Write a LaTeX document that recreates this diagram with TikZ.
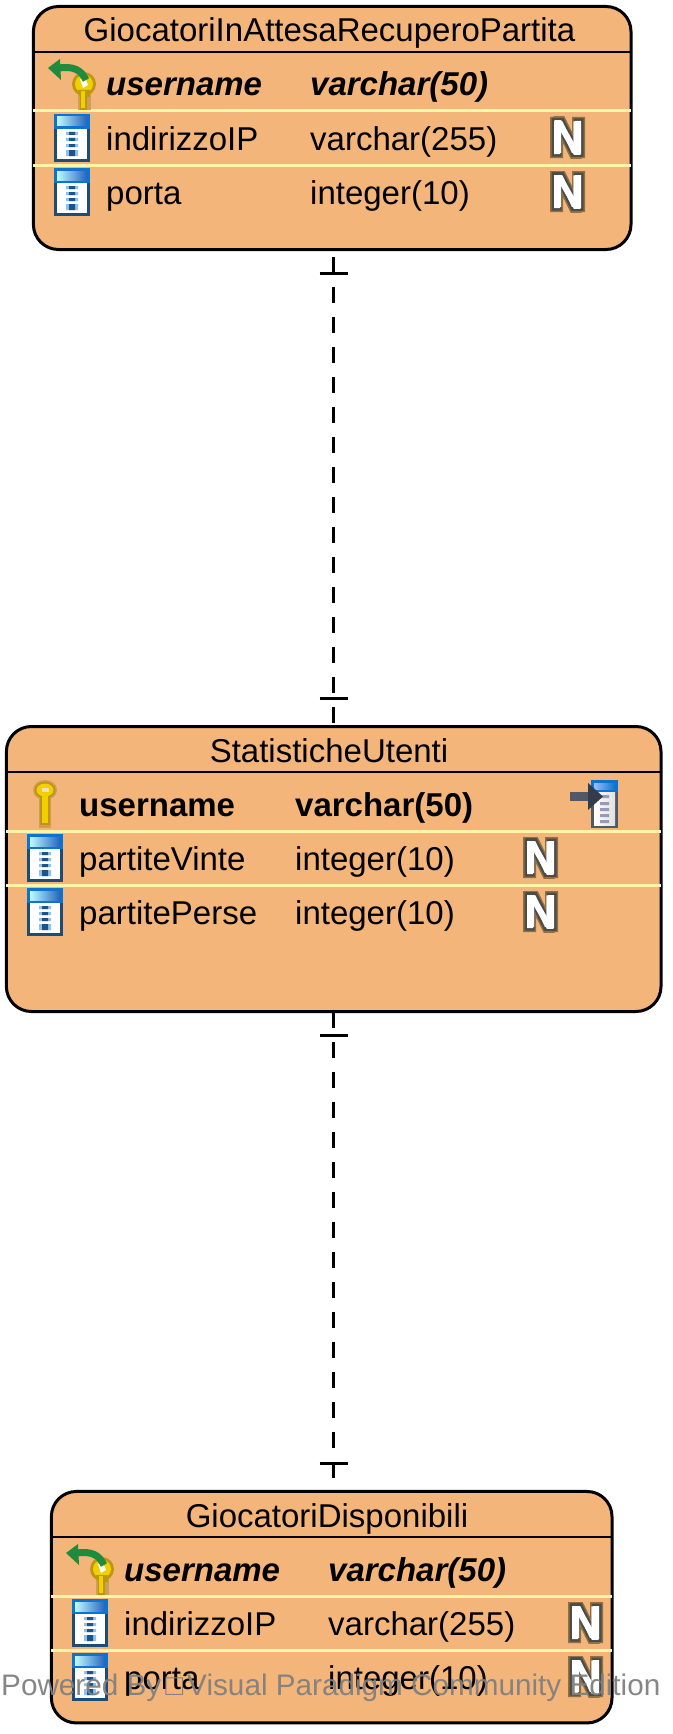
\documentclass[tikz,border=0pt]{standalone}
\usepackage{fontspec}
\setmainfont{Liberation Sans}
\usepackage{tikz}
\usetikzlibrary{positioning,shadings}
\definecolor{tablefill}{RGB}{244,181,122}
\definecolor{rowline}{RGB}{255,245,170}
\definecolor{colblue}{RGB}{11,116,209}
\definecolor{coldark}{RGB}{30,76,120}
\definecolor{keygold}{RGB}{190,150,20}
\definecolor{keyyellow}{RGB}{242,208,0}
\definecolor{keyhalo}{RGB}{205,160,90}
\definecolor{pkgreen}{RGB}{30,140,60}
\definecolor{fkdark}{RGB}{50,60,75}
\definecolor{markgray}{RGB}{128,128,128}
\tikzstyle{tablebox} = [rectangle, rounded corners=25pt, draw=black, fill=tablefill, line width=3pt, inner sep=0pt]
\tikzstyle{titletext} = [anchor=base, inner sep=0pt, font=\fontsize{33}{34}\selectfont]
\tikzstyle{rowtext} = [anchor=base west, inner sep=0pt, font=\fontsize{33}{34}\selectfont]
\tikzstyle{pktext} = [rowtext, font=\fontsize{33}{34}\selectfont\bfseries]
\tikzstyle{pkfktext} = [rowtext, font=\fontsize{33}{34}\selectfont\bfseries\itshape]
\tikzstyle{titlesep} = [line width=2pt, shorten <=1.5pt, shorten >=1.5pt]
\tikzstyle{rowsep} = [line width=3pt, color=rowline, shorten <=1.5pt, shorten >=1.5pt]
\tikzstyle{relline} = [line width=3pt, dash pattern=on 16pt off 14pt]
\tikzstyle{teebar} = [line width=3pt]
\tikzset{
  colicon/.pic={
    \fill[coldark] (0,14) rectangle (36,48);
    \fill[white] (3,15) rectangle (33,45);
    \fill[colblue] (0,0) rectangle (36,15);
    \shade[left color=blue!10!cyan!25, right color=blue!60!cyan!70!black!85] (3,3) rectangle (33,12);
    \fill[colblue!45] (12,18) rectangle (24,21) (12,24) rectangle (24,27) (12,30) rectangle (24,33) (12,36) rectangle (24,42);
    \fill[coldark!80!colblue] (15,18) rectangle (21,21) (15,24) rectangle (21,27) (15,30) rectangle (21,33) (15,36) rectangle (21,42);
  },
  nullicon/.pic={
    \begin{scope}
    \clip (0,0) rectangle (35,41);
    \draw[keyhalo!70!black, line width=13pt] (6.5,0) -- (6.5,41) (6.5,-2) -- (28.5,43) (28.5,41) -- (28.5,0);
    \end{scope}
    \begin{scope}
    \clip (1.5,1.5) rectangle (33.5,39.5);
    \draw[black!70, line width=10pt] (6.5,1.5) -- (6.5,39.5) (6.5,-2) -- (28.5,43) (28.5,39.5) -- (28.5,1.5);
    \end{scope}
    \begin{scope}
    \clip (4,4) rectangle (31,37);
    \draw[white, line width=6pt] (7,4) -- (7,37) (7,2) -- (28,39) (28,37) -- (28,4);
    \end{scope}
    \node[transform shape, xscale=.8, inner sep=0pt, text=white, font=\fontsize{46}{46}\selectfont\bfseries] (glyph) at (17.5,20.5) {N};
  },
  keyicon/.pic={
    \fill[keyhalo] (6,18) rectangle (18,48);
    \fill[keyhalo] (12,10) ellipse (12 and 10);
    \fill[keygold] (12,10) ellipse (10.5 and 8.5);
    \fill[keyyellow] (12,10) ellipse (8.5 and 6.5);
    \fill[keygold] (7,16) rectangle (17,45);
    \fill[keyyellow] (9,16) rectangle (15,43);
    \fill[white!70!keygold] (8.5,8) rectangle (15.5,12);
  },
  pkfkicon/.pic={
    \fill[keyhalo] (30,30) rectangle (43,52);
    \fill[keygold] (36,26) circle (12);
    \fill[keyyellow] (36,26) circle (9);
    \fill[keygold] (30,32) -- (42,32) -- (42,39) -- (39,39) -- (39,52) -- (32,52) -- (32,39) -- cycle;
    \fill[keyyellow] (33,33) rectangle (37,50);
    \fill[white] (32,21) -- (37,20) -- (40,27) -- (35,30) -- cycle;
    \draw[pkgreen, line width=7pt] (11,10) .. controls (26,8) and (33,12) .. (38,22);
    \fill[pkgreen] (0,10) -- (12,1) -- (13,22) -- cycle;
  },
  fkicon/.pic={
    \fill[fkdark!85] (21,12) rectangle (48,48);
    \shade[left color=white, right color=black!12] (24,12) rectangle (45,45);
    \fill[colblue] (21,0) rectangle (48,12);
    \shade[left color=cyan!35!blue!40, right color=colblue] (24,3) rectangle (45,9);
    \fill[blue!30!black!40] (30,15) rectangle (39,18) (30,22) rectangle (39,25) (30,28) rectangle (39,31) (30,34) rectangle (39,37) (30,40) rectangle (39,43);
    \fill[fkdark!85] (0,12) rectangle (19,21);
    \fill[fkdark] (18,3) -- (33,16.5) -- (18,30) -- cycle;
  }
}
\begin{document}
\begin{tikzpicture}[x=1pt,y=-1pt]
\useasboundingbox (0,0) rectangle (672,1734);
\node[tablebox, minimum width=597.6pt, minimum height=243pt] (tabAttesa) at (332.2,128) {};
\node[tablebox, minimum width=654.6pt, minimum height=285pt] (tabStat) at (333.7,869) {};
\node[tablebox, minimum width=560.6pt, minimum height=231.5pt] (tabDisp) at (331.7,1607.2) {};

\draw[titlesep] (tabAttesa.west |- 0,52) -- (tabAttesa.east |- 0,52);
\draw[rowsep] (tabAttesa.west |- 0,111) -- (tabAttesa.east |- 0,111);
\draw[rowsep] (tabAttesa.west |- 0,165) -- (tabAttesa.east |- 0,165);
\draw[titlesep] (tabStat.west |- 0,772) -- (tabStat.east |- 0,772);
\draw[rowsep] (tabStat.west |- 0,831) -- (tabStat.east |- 0,831);
\draw[rowsep] (tabStat.west |- 0,885) -- (tabStat.east |- 0,885);
\draw[titlesep] (tabDisp.west |- 0,1537) -- (tabDisp.east |- 0,1537);
\draw[rowsep] (tabDisp.west |- 0,1596) -- (tabDisp.east |- 0,1596);
\draw[rowsep] (tabDisp.west |- 0,1650) -- (tabDisp.east |- 0,1650);

\node[titletext] (titleAttesa) at (329.5,42) {GiocatoriInAttesaRecuperoPartita};
\pic at (48,58) {pkfkicon};
\node[pkfktext] (userAttesa) at (106,96) {username};
\node[pkfktext] (userTypeAttesa) at (310,96) {varchar(50)};
\pic at (54,114) {colicon};
\node[rowtext] (ipAttesa) at (106,150) {indirizzoIP};
\node[rowtext] (ipTypeAttesa) at (310,150) {varchar(255)};
\pic (nullIpAttesa) at (550,117) {nullicon};
\pic at (54,168) {colicon};
\node[rowtext] (portaAttesa) at (106,204) {porta};
\node[rowtext] (portaTypeAttesa) at (310,204) {integer(10)};
\pic (nullPortaAttesa) at (550,171) {nullicon};

\node[titletext] (titleStat) at (329,762) {StatisticheUtenti};
\pic at (33,780) {keyicon};
\node[pktext] (userStat) at (79,816) {username};
\node[pktext] (userTypeStat) at (295,816) {varchar(50)};
\pic at (570,780) {fkicon};
\pic at (27,834) {colicon};
\node[rowtext] (vinteStat) at (79,870) {partiteVinte};
\node[rowtext] (vinteTypeStat) at (295,870) {integer(10)};
\pic (nullVinteStat) at (523,837) {nullicon};
\pic at (27,888) {colicon};
\node[rowtext] (perseStat) at (79,924) {partitePerse};
\node[rowtext] (perseTypeStat) at (295,924) {integer(10)};
\pic (nullPerseStat) at (523,891) {nullicon};

\node[titletext] (titleDisp) at (327,1527) {GiocatoriDisponibili};
\pic at (66,1543) {pkfkicon};
\node[pkfktext] (userDisp) at (124,1581) {username};
\node[pkfktext] (userTypeDisp) at (328,1581) {varchar(50)};
\pic at (72,1599) {colicon};
\node[rowtext] (ipDisp) at (124,1635) {indirizzoIP};
\node[rowtext] (ipTypeDisp) at (328,1635) {varchar(255)};
\pic (nullIpDisp) at (568,1602) {nullicon};
\pic at (72,1653) {colicon};
\node[rowtext] (portaDisp) at (124,1689) {porta};
\node[rowtext] (portaTypeDisp) at (328,1689) {integer(10)};
\pic (nullPortaDisp) at (568,1656) {nullicon};

\coordinate (topA) at (333.5,249.5);
\coordinate (endA) at (333.5,726.5);
\coordinate (topB) at (333.5,1011.5);
\coordinate (endB) at (333.5,1491.5);
\draw[relline, dash phase=22.5pt] (topA) -- (endA);
\draw[relline] (topB) -- (endB);
\coordinate[below=23.5pt of topA] (teeA);
\coordinate[above=28.5pt of endA] (teeB);
\coordinate[below=23.5pt of topB] (teeC);
\coordinate[above=28.5pt of endB] (teeD);
\draw[teebar] ([xshift=-14pt]teeA) -- ([xshift=14pt]teeA);
\draw[teebar] ([xshift=-14pt]teeB) -- ([xshift=14pt]teeB);
\draw[teebar] ([xshift=-14pt]teeC) -- ([xshift=14pt]teeC);
\draw[teebar] ([xshift=-14pt]teeD) -- ([xshift=14pt]teeD);

\node[anchor=base west, inner sep=0pt, text=markgray, text opacity=.95, font=\fontsize{29.7}{30}\selectfont] (poweredBy) at (1,1695) {Powered By\hspace{4pt}□\hspace{4pt}Visual Paradigm Community Edition};
\end{tikzpicture}
\end{document}
